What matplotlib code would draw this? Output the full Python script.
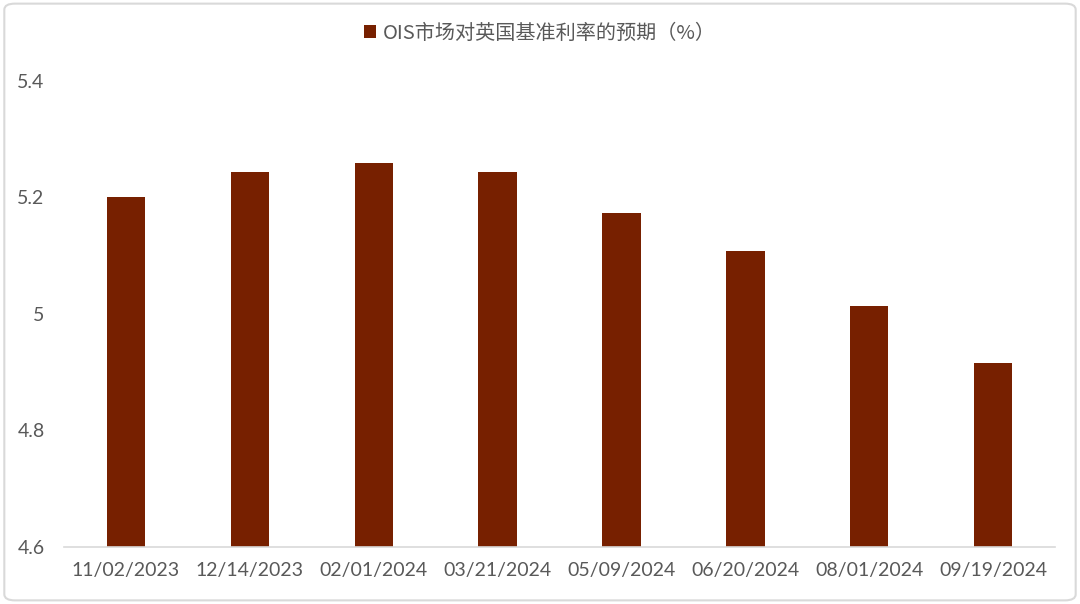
import matplotlib.pyplot as plt
from matplotlib.patches import FancyBboxPatch
import numpy as np

dates = ['11/02/2023', '12/14/2023', '02/01/2024', '03/21/2024',
         '05/09/2024', '06/20/2024', '08/01/2024', '09/19/2024']
values = [5.200, 5.244, 5.259, 5.244, 5.173, 5.108, 5.014, 4.916]
label = 'OIS市场对英国基准利率的预期（%）'

plt.rcParams['font.family'] = ['Lato', 'Noto Sans CJK SC', 'DejaVu Sans']

fig = plt.figure(figsize=(10.8, 6.04), dpi=100)
ax = fig.add_axes([0.0593, 0.0944, 0.9176, 0.7715])

x = np.arange(len(dates))
ax.bar(x, values, width=0.31, color='#772000', label=label, zorder=2)

ax.set_ylim(4.6, 5.4)
ax.set_yticks([4.6, 4.8, 5.0, 5.2, 5.4])
ax.set_yticklabels(['4.6', '4.8', '5', '5.2', '5.4'])
ax.set_xlim(-0.5, len(dates) - 0.5)
ax.set_xticks(x)
ax.set_xticklabels(dates)

for s in ['top', 'right', 'left']:
    ax.spines[s].set_visible(False)
ax.spines['bottom'].set_color('#d9d9d9')
ax.spines['bottom'].set_linewidth(1.2)
ax.tick_params(axis='both', length=0, labelsize=14, colors='#595959')
ax.tick_params(axis='x', pad=11)
ax.tick_params(axis='y', pad=14)

leg = fig.legend(loc='center', bbox_to_anchor=(0.5, 0.945), frameon=False,
                 handlelength=0.6, handleheight=0.6, handletextpad=0.35,
                 prop={'family': ['Noto Sans CJK SC', 'DejaVu Sans'], 'size': 14.5})
for t in leg.get_texts():
    t.set_color('#595959')

border = FancyBboxPatch((0.004, 0.006), 0.992, 0.988,
                        boxstyle='round,pad=0,rounding_size=0.01',
                        transform=fig.transFigure, fill=False,
                        edgecolor='#d9d9d9', linewidth=1.5)
fig.patches.append(border)

fig.savefig('out.png', dpi=100)
